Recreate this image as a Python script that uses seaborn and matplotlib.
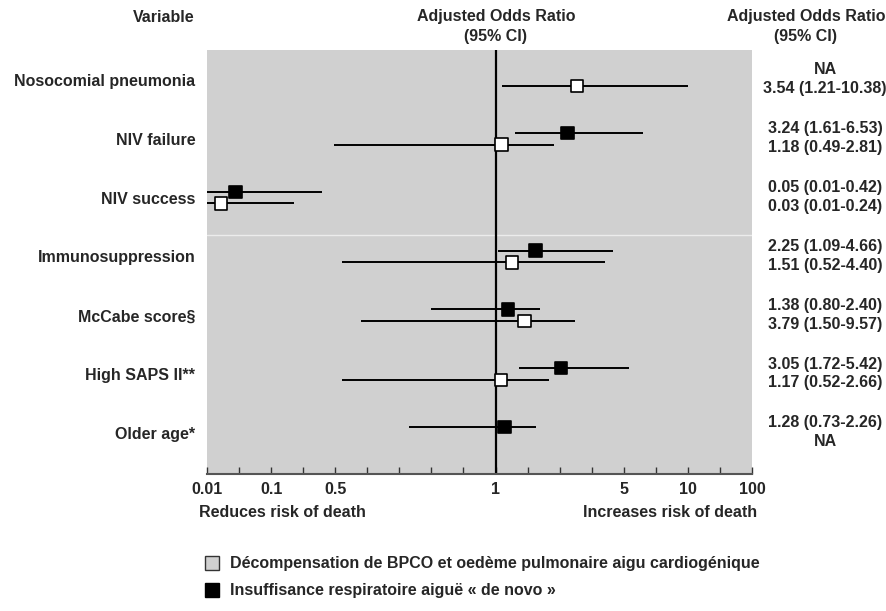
import numpy as np
import pandas as pd
import matplotlib
matplotlib.use("Agg")
import matplotlib.pyplot as plt
import seaborn as sns
from matplotlib.lines import Line2D
from matplotlib.ticker import FixedLocator, FixedFormatter, NullFormatter

# ---------------------------------------------------------
# DATA
# ---------------------------------------------------------

variables = ["Nosocomial pneumonia", "NIV failure", "NIV success",
             "Immunosuppression", "McCabe score§", "High SAPS II**",
             "Older age*"]

group_copd = "Décompensation de BPCO et oedème pulmonaire aigu cardiogénique"
group_denovo = "Insuffisance respiratoire aiguë « de novo »"

# odds ratios as drawn in the plot (NaN = NA)
denovo_or = [np.nan, 3.24, 0.05, 2.25, 1.38, 3.05, 1.28]
denovo_lo = [np.nan, 1.61, 0.01, 1.09, 0.80, 1.72, 0.73]
denovo_hi = [np.nan, 6.53, 0.42, 4.66, 2.40, 5.42, 2.26]

copd_or = [3.54, 1.18, 0.03, 1.51, 1.90, 1.17, np.nan]
copd_lo = [1.21, 0.49, 0.01, 0.52, 0.58, 0.52, np.nan]
copd_hi = [10.38, 2.81, 0.24, 4.40, 3.47, 2.66, np.nan]

# right column texts
denovo_txt = ["NA", "3.24 (1.61-6.53)", "0.05 (0.01-0.42)", "2.25 (1.09-4.66)",
              "1.38 (0.80-2.40)", "3.05 (1.72-5.42)", "1.28 (0.73-2.26)"]
copd_txt = ["3.54 (1.21-10.38)", "1.18 (0.49-2.81)", "0.03 (0.01-0.24)",
            "1.51 (0.52-4.40)", "3.79 (1.50-9.57)", "1.17 (0.52-2.66)", "NA"]

# x axis: labelled values and their tick slot on the axis
axis_values = [0.01, 0.1, 0.5, 1, 5, 10, 100]
axis_labels = ["0.01", "0.1", "0.5", "1", "5", "10", "100"]
axis_slots = [0, 2, 4, 9, 13, 15, 17]

# ---------------------------------------------------------
# TABLE
# ---------------------------------------------------------

n = len(variables)
df = pd.concat([
    pd.DataFrame({"row": np.arange(n), "group": group_denovo,
                  "or": denovo_or, "lo": denovo_lo, "hi": denovo_hi}),
    pd.DataFrame({"row": np.arange(n), "group": group_copd,
                  "or": copd_or, "lo": copd_lo, "hi": copd_hi}),
])
offset = {group_denovo: -0.10, group_copd: 0.10}
df["y"] = df["row"] + df["group"].map(offset)
df = df.dropna()

# ---------------------------------------------------------
# PLOT
# ---------------------------------------------------------

sns.set_theme(style="white")
plt.rcParams["font.family"] = ["Liberation Sans", "DejaVu Sans"]
plt.rcParams["font.weight"] = "bold"
fs = 11.5

fig = plt.figure(figsize=(8.87, 6.11), dpi=100)
ax = fig.add_axes([207 / 887, 1 - 474 / 611, 545 / 887, 424 / 611])
ax.set_facecolor("#d0d0d0")


def fwd(v):
    return np.interp(v, axis_values, axis_slots)


def inv(t):
    return np.interp(t, axis_slots, axis_values)


ax.set_xscale("function", functions=(fwd, inv))
ax.set_xlim(0.01, 100)
ax.set_ylim(n - 0.30, -0.51)

ax.axhline(2.64, color="#ececec", lw=1, zorder=1)
ax.axvline(1, color="black", lw=1.6, zorder=2)

ax.hlines(df["y"], df["lo"], df["hi"], color="black", lw=1.4, zorder=3)

sns.scatterplot(
    data=df, x="or", y="y", hue="group", marker="s", s=80,
    palette={group_denovo: "black", group_copd: "white"},
    edgecolor="black", linewidth=1.2, legend=False, zorder=4, ax=ax
)

# axis ticks
ax.xaxis.set_major_locator(FixedLocator(axis_values))
ax.xaxis.set_major_formatter(FixedFormatter(axis_labels))
ax.xaxis.set_minor_locator(FixedLocator(inv(np.arange(18))))
ax.xaxis.set_minor_formatter(NullFormatter())
ax.tick_params(axis="x", which="both", direction="in", length=5, width=1,
               color="#333333", bottom=True, labelsize=fs, pad=6)
ax.set_yticks(range(n))
ax.set_yticklabels(variables, fontsize=fs, fontweight="bold")
ax.tick_params(axis="y", length=0, pad=8.5)
ax.set_xlabel("")
ax.set_ylabel("")

for s in ["top", "left", "right"]:
    ax.spines[s].set_visible(False)
ax.spines["bottom"].set_color("#555555")
ax.spines["bottom"].set_linewidth(1.5)

# right column values
for i in range(n):
    ax.text(1.134, i - 0.17, denovo_txt[i], transform=ax.get_yaxis_transform(),
            ha="center", va="center", fontsize=fs, fontweight="bold")
    ax.text(1.134, i + 0.15, copd_txt[i], transform=ax.get_yaxis_transform(),
            ha="center", va="center", fontsize=fs, fontweight="bold")

# headers
fig.text(195 / 887, 1 - 17 / 611, "Variable", ha="right", va="center",
         fontsize=fs, fontweight="bold")
fig.text(496 / 887, 1 - 17 / 611, "Adjusted Odds Ratio", ha="center", va="center",
         fontsize=fs, fontweight="bold")
fig.text(496 / 887, 1 - 36 / 611, "(95% CI)", ha="center", va="center",
         fontsize=fs, fontweight="bold")
fig.text(806 / 887, 1 - 17 / 611, "Adjusted Odds Ratio", ha="center", va="center",
         fontsize=fs, fontweight="bold")
fig.text(806 / 887, 1 - 36 / 611, "(95% CI)", ha="center", va="center",
         fontsize=fs, fontweight="bold")

# bottom captions
ax.text(-0.015, -0.09, "Reduces risk of death", transform=ax.transAxes,
        ha="left", va="center", fontsize=fs, fontweight="bold")
ax.text(1.01, -0.09, "Increases risk of death", transform=ax.transAxes,
        ha="right", va="center", fontsize=fs, fontweight="bold")

# legend
handles = [
    Line2D([], [], ls="", marker="s", ms=10, mfc="#d0d0d0", mec="#333333", mew=1),
    Line2D([], [], ls="", marker="s", ms=10, mfc="black", mec="black", mew=1),
]
fig.legend(handles, [group_copd, group_denovo], loc="upper left",
           bbox_to_anchor=(198 / 887, 1 - 550 / 611), frameon=False,
           prop={"size": fs, "weight": "bold"}, handlelength=1,
           handletextpad=0.6, labelspacing=0.75, borderaxespad=0)

fig.savefig("out.png", dpi=100)
